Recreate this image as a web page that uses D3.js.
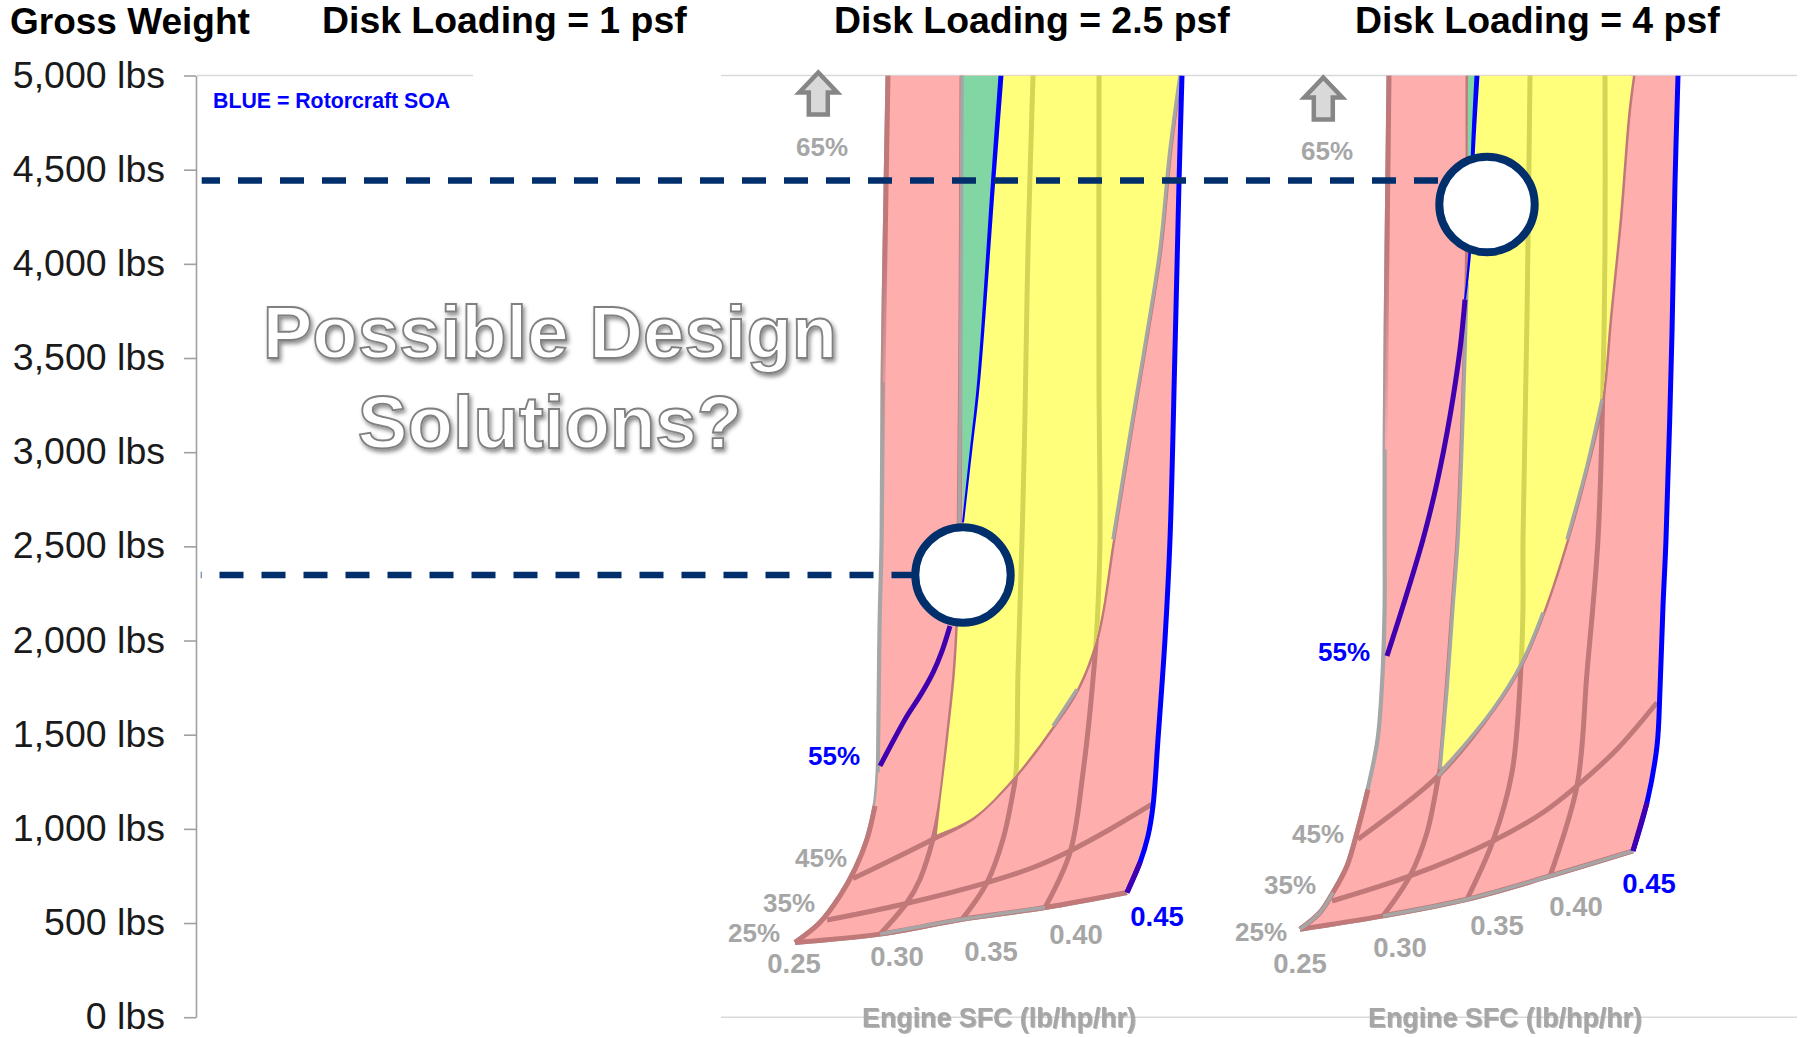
<!DOCTYPE html>
<html><head><meta charset="utf-8">
<script src="https://cdnjs.cloudflare.com/ajax/libs/d3/7.8.5/d3.min.js"></script>
<style>
html,body{margin:0;padding:0;background:#fff}
svg{display:block}
text{font-family:"Liberation Sans",Arial,sans-serif}
</style></head><body>
<svg id="c" width="1810" height="1037"></svg>
<script>
// ---------- data: [carpet offset, gross weight lbs] ----------
const weightTicks=[0,500,1000,1500,2000,2500,3000,3500,4000,4500,5000];
const panelTitles=["Gross Weight","Disk Loading = 1 psf","Disk Loading = 2.5 psf","Disk Loading = 4 psf"];
const sfcLabels=["0.25","0.30","0.35","0.40","0.45"];
const effLabels=["25%","35%","45%","55%","65%"];

const a_sfc25=[[0,397],[25,503],[45,644],[60,786],[72,945],[80,1122],[83,1299],[84,1652],[85,2095],[87,2537],[88,3371],[90,4077],[93,5000]];
const a_sfc30=[[85,441],[112,609],[125,733],[138,945],[145,1122],[153,1476],[160,1830],[163,2095],[164,2484],[166,3722],[167,5000]];
const a_sfc35=[[167,520],[192,715],[208,945],[218,1193],[221,1299],[223,1830],[227,2537],[230,3192],[233,4077],[238,5000]];
const a_sfc40=[[250,582],[275,874],[288,1299],[300,1918],[303,2183],[305,2537],[304,3369],[304,5000]];
const a_sfc45=[[332,662],[345,821],[353,962],[358,1122],[363,1476],[370,2006],[375,2537],[380,3546],[384,4430],[387,5000]];
const a_eff25=[[0,397],[85,441],[167,520],[250,582],[332,662]];
const a_eff35=[[32,516],[108,600],[192,715],[238,795],[275,883],[315,998],[357,1131]];
const a_eff45=[[58,736],[138,945],[178,1060],[220,1281],[258,1546],[282,1741],[302,2024],[318,2537],[338,3192],[352,3634],[365,4077],[375,4607],[385,5000]];
const a_eff55=[[85,1334],[112,1599],[125,1706],[138,1830],[147,1944],[155,2077],[168,2626],[176,3010],[183.5,3369],[198,4430],[206,5000]];
const a_yellowStart=[[142,971]];
const a_yellowLeft=[[168,2626],[163,2095],[160,1830],[153,1476],[145,1122],[142,971]];
const a_greenLeft=[[168,2626],[167,3722],[168,5000]];
const a_point=[168,2348];

const b_sfc25=[[0,467],[20,556],[33,662],[47,803],[57,980],[68,1210],[78,1476],[83,1830],[85,2183],[85,2537],[85,3015],[87,4077],[89,5000]];
const b_sfc30=[[83,538],[110,750],[127,980],[138,1263],[140,1316],[147,1741],[153,2183],[158,2537],[163,3192],[167,3900],[168,4430],[168,5000]];
const b_sfc35=[[167,626],[193,936],[212,1299],[221,1865],[223,2183],[223,2537],[227,3722],[230,5000]];
const b_sfc40=[[250,750],[277,1228],[287,1830],[298,2537],[303,3369],[305,4077],[305,5000]];
const b_sfc45=[[333,883],[347,1140],[357,1440],[360,1741],[363,2183],[366,2537],[372,3634],[375,4430],[378,5000]];
const b_eff25=[[0,467],[83,538],[167,626],[250,750],[333,883]];
const b_eff35=[[32,617],[110,750],[193,936],[243,1087],[277,1228],[317,1423],[357,1671]];
const b_eff45=[[58,945],[138,1281],[193,1635],[222,1883],[243,2148],[267,2537],[287,2927],[302,3280],[310,3722],[320,4253],[328,4784],[333,5000]];
const b_eff55=[[87,1918],[103,2183],[123,2537],[137,2838],[150,3192],[160,3546],[165,3811],[170,4077],[173,4607],[177,5000]];
const b_yellowStart=[[140,1316]];
const b_yellowLeft=[[168,3900],[163,3192],[158,2537],[153,2183],[147,1741],[140,1316]];
const b_greenLeft=[[170,4077],[168,4430],[168,5000]];
const b_point=[187,4315];

const dashWeights=[4443,2348];

// ---------- layout ----------
const svg=d3.select("#c");
const NAVY="#002F6C",PINK="#FFAEAE",YEL="#FFFF7C",GRN="#82D6A4",RED="#C07878",GREY="#A6A6A6",BLUE="#0000FF",PURP="#4000B0",OLV="#D4D555";
const y=d3.scaleLinear().domain([0,5000]).range([1017.2,75.5]);
const xA=d3.scaleLinear().domain([0,1000]).range([795,1795]);
const xB=d3.scaleLinear().domain([0,1000]).range([1300,2300]);
const defs=svg.append("defs");
const f=defs.append("filter").attr("id","sh").attr("x","-5%").attr("y","-10%").attr("width","110%").attr("height","125%");
f.append("feDropShadow").attr("dx",2).attr("dy",3).attr("stdDeviation",2).attr("flood-color","#000").attr("flood-opacity",.45);
const s=defs.append("filter").attr("id","soft").attr("x","-5%").attr("y","-20%").attr("width","110%").attr("height","140%");
s.append("feDropShadow").attr("dx",1).attr("dy",1).attr("stdDeviation",.6).attr("flood-color","#888").attr("flood-opacity",.6);
defs.append("clipPath").attr("id","plot").append("rect").attr("x",700).attr("y",y(5000)).attr("width",1100).attr("height",y(0)-y(5000));
const lg=defs.append("linearGradient").attr("id","fadeRed").attr("gradientUnits","userSpaceOnUse").attr("x1",0).attr("x2",0).attr("y1",75).attr("y2",460);
lg.append("stop").attr("offset","45%").attr("stop-color",RED).attr("stop-opacity",1);
lg.append("stop").attr("offset","100%").attr("stop-color",RED).attr("stop-opacity",0);

// gridlines
[[197,473,5000],[721,1797,5000],[721,1797,0]].forEach(d=>svg.append("line").attr("x1",d[0]).attr("x2",d[1]).attr("y1",y(d[2])).attr("y2",y(d[2])).attr("stroke","#D9D9D9").attr("stroke-width",1.5));

// axis
const ax=svg.append("g").attr("transform","translate(196,0)").call(d3.axisLeft(y).tickValues(weightTicks).tickFormat(d=>d3.format(",")(d)+" lbs").tickSize(12).tickSizeOuter(0).tickPadding(19));
ax.selectAll("path,line").attr("stroke","#A0A0A0").attr("stroke-width",1.6);
ax.selectAll("text").attr("font-size",37.5).attr("fill","#1a1a1a").attr("font-family",'"Liberation Sans"').attr("dy","0.31em");

// titles
[[10,panelTitles[0],37],[322,panelTitles[1],37.4],[834,panelTitles[2],37.4],[1355,panelTitles[3],37.4]].forEach((d,i)=>
  svg.append("text").attr("x",d[0]).attr("y",i?33:34).attr("font-size",d[2]).attr("font-weight","bold").attr("fill","#000").text(d[1]));
svg.append("text").attr("x",213).attr("y",108).attr("font-size",21.3).attr("font-weight","bold").attr("fill",BLUE).text("BLUE = Rotorcraft SOA");

function carpet(id,x,D,cfg){
  const line=d3.line().x(d=>x(d[0])).y(d=>y(d[1])).curve(d3.curveCatmullRom.alpha(.5));
  const poly=segs=>segs.map((q,i)=>i?line(q).replace(/^M/,"L"):line(q)).join("")+"Z";
  const g=svg.append("g").attr("clip-path","url(#plot)");
  const pink=poly([D.sfc25,[...D.sfc45].reverse(),[...D.eff25].reverse()]);
  const yellow=poly(cfg.yellow);
  const green=poly(cfg.green);
  defs.append("clipPath").attr("id","y"+id).append("path").attr("d",yellow);
  const stroke=(dd,c,w)=>g.append("path").attr("d",line(dd)).attr("fill","none").attr("stroke",c).attr("stroke-width",w).attr("stroke-linejoin","round");
  // a curve whose stroke widens steadily along its length
  const taper=(dd,c,w0,w1)=>{
    const p=stroke(dd,"none",1),n=p.node(),L=n.getTotalLength(),a=[],b=[];
    for(let i=0;i<=80;i++){const t=i/80,q=n.getPointAtLength(L*t),w=(w0+(w1-w0)*t)/2;a.push([q.x-w,q.y]);b.unshift([q.x+w,q.y]);}
    p.remove();
    g.append("path").attr("d",d3.line()(a.concat(b))+"Z").attr("fill",c);
  };
  // grey outline under the surface
  stroke(D.sfc25,GREY,5);
  stroke(D.eff25,GREY,5);
  g.append("path").attr("d",pink).attr("fill",PINK);
  // grid of the carpet
  [D.eff25,D.eff35,D.eff45,D.sfc30,D.sfc35,D.sfc40].forEach(c=>stroke(c,RED,5));
  stroke(cfg.redLow,RED,5);
  g.append("path").attr("d",yellow).attr("fill",YEL);
  g.append("path").attr("d",green).attr("fill",GRN);
  // the same lines seen through the yellow
  const og=g.append("g").attr("clip-path",`url(#y${id})`);
  [D.sfc35,D.sfc40].forEach(c=>og.append("path").attr("d",line(c)).attr("fill","none").attr("stroke",OLV).attr("stroke-width",5));
  // grey edges
  cfg.grey.forEach(c=>stroke(c,GREY,3.5));
  stroke(D.sfc25,"url(#fadeRed)",5);
  // SOA lines
  stroke(cfg.purple,PURP,5);
  taper(cfg.blue,BLUE,cfg.blueW[0],cfg.blueW[1]);
  stroke(D.sfc45,BLUE,5);
  stroke(cfg.endPurple,PURP,5);
}

carpet("a",xA,{sfc25:a_sfc25,sfc30:a_sfc30,sfc35:a_sfc35,sfc40:a_sfc40,sfc45:a_sfc45,eff25:a_eff25,eff35:a_eff35,eff45:a_eff45},{
  yellow:[[...a_yellowStart,...a_eff45.slice(2)],a_eff55.slice(6).reverse(),a_yellowLeft],
  green:[a_greenLeft,a_eff55.slice(6).reverse()],
  redLow:a_sfc25.slice(0,6),
  grey:[a_sfc25.slice(6,11),a_eff45.slice(7),a_eff45.slice(4,6),a_sfc30.slice(8),a_eff25.slice(1,4)],
  purple:a_eff55.slice(0,6),
  blue:a_eff55.slice(6),blueW:[2,5],
  endPurple:a_sfc45.slice(0,2)
});
carpet("b",xB,{sfc25:b_sfc25,sfc30:b_sfc30,sfc35:b_sfc35,sfc40:b_sfc40,sfc45:b_sfc45,eff25:b_eff25,eff35:b_eff35,eff45:b_eff45},{
  yellow:[[...b_yellowStart,...b_eff45.slice(2)],b_eff55.slice(7).reverse(),b_yellowLeft],
  green:[b_greenLeft,b_eff55.slice(7).reverse()],
  redLow:b_sfc25.slice(0,6),
  grey:[b_sfc25.slice(5,11),b_sfc30.slice(4,10),b_eff45.slice(1,5),b_eff45.slice(5,8),b_eff25.slice(1),b_sfc25.slice(0,3)],
  purple:b_eff55.slice(0,7),
  blue:b_eff55.slice(6),blueW:[2,5],
  endPurple:b_sfc45.slice(0,2)
});

// dashed guides + design points
const dash=[[201.7,xB(b_point[0])-40,5.7],[200.8,xA(a_point[0])-40,23.3]];
dash.forEach((d,i)=>svg.append("line").attr("x1",d[0]).attr("x2",d[1]).attr("y1",y(dashWeights[i])).attr("y2",y(dashWeights[i]))
  .attr("stroke",NAVY).attr("stroke-width",6.5).attr("stroke-dasharray","24 18").attr("stroke-dashoffset",d[2]));
[[xA,a_point],[xB,b_point]].forEach(d=>svg.append("circle").attr("cx",d[0](d[1][0])).attr("cy",y(d[1][1])).attr("r",47.7)
  .attr("fill","#fff").attr("stroke",NAVY).attr("stroke-width",8));

// up arrows
[[818.3,72.5],[1323.3,77.5]].forEach(d=>{
  const p=[[0,0],[19,20],[9.5,20],[9.5,42],[-9.5,42],[-9.5,20],[-19,20]];
  svg.append("path").attr("transform",`translate(${d[0]},${d[1]})`).attr("d",d3.line()(p)+"Z").attr("fill","#D9D9D9").attr("stroke","#868686").attr("stroke-width",4.5).attr("stroke-linejoin","miter");
});

// carpet labels
const lab=[
 [822,147,effLabels[4],GREY,26],[834,756,effLabels[3],BLUE,26],[821,858,effLabels[2],GREY,26],[789,903,effLabels[1],GREY,26],[754,933,effLabels[0],GREY,26],
 [794,963,sfcLabels[0],GREY,27.5],[897,956,sfcLabels[1],GREY,27.5],[991,951,sfcLabels[2],GREY,27.5],[1076,934,sfcLabels[3],GREY,27.5],[1157,916,sfcLabels[4],BLUE,27.5],
 [1327,151,effLabels[4],GREY,26],[1344,652,effLabels[3],BLUE,26],[1318,834,effLabels[2],GREY,26],[1290,885,effLabels[1],GREY,26],[1261,932,effLabels[0],GREY,26],
 [1300,963,sfcLabels[0],GREY,27.5],[1400,947,sfcLabels[1],GREY,27.5],[1497,925,sfcLabels[2],GREY,27.5],[1576,906,sfcLabels[3],GREY,27.5],[1649,883,sfcLabels[4],BLUE,27.5]];
lab.forEach(d=>svg.append("text").attr("x",d[0]).attr("y",d[1]).attr("dy","0.35em").attr("text-anchor","middle")
  .attr("font-size",d[4]).attr("font-weight","bold").attr("fill",d[3]).text(d[2]));
[999,1505].forEach(x=>svg.append("text").attr("x",x).attr("y",1018).attr("dy","0.35em").attr("text-anchor","middle")
  .attr("font-size",26.8).attr("font-weight","bold").attr("fill",GREY).attr("filter","url(#soft)").text("Engine SFC (lb/hp/hr)"));

// callout
[["Possible Design",358],["Solutions?",448]].forEach(d=>svg.append("text").attr("x",550).attr("y",d[1]).attr("text-anchor","middle")
  .attr("font-size",74.4).attr("font-weight","bold").attr("fill","#fff").attr("stroke","#808080").attr("stroke-width",1.8).attr("filter","url(#sh)").text(d[0]));
</script>
</body></html>
